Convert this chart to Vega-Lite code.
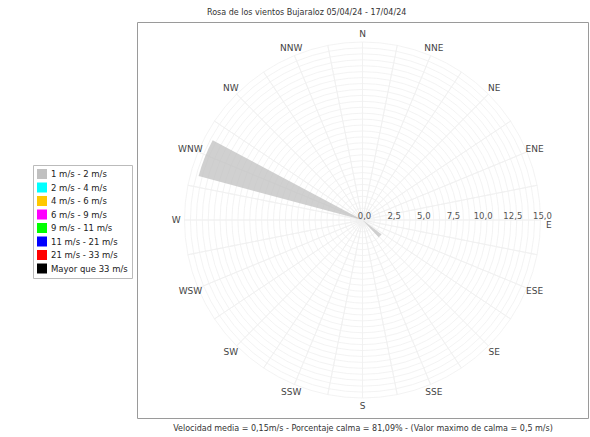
{
  "$schema": "https://vega.github.io/schema/vega-lite/v6.json",
  "width": 451,
  "height": 396,
  "autosize": {"type": "none"},
  "padding": {"left": 137, "top": 22, "right": 2, "bottom": 19},
  "background": "white",
  "config": {
    "font": "DejaVu Sans",
    "view": {"stroke": "#9a9a9a", "strokeWidth": 1}
  },
  "title": {
    "text": "Rosa de los vientos Bujaraloz 05/04/24 - 17/04/24",
    "anchor": "start",
    "frame": "group",
    "dx": 70,
    "offset": 5,
    "fontSize": 8,
    "fontWeight": "normal",
    "color": "#333333"
  },
  "datasets": {
    "rings": [
      {"r": 0.5}, {"r": 1}, {"r": 1.5}, {"r": 2}, {"r": 2.5}, {"r": 3}, {"r": 3.5}, {"r": 4}, {"r": 4.5}, {"r": 5},
      {"r": 5.5}, {"r": 6}, {"r": 6.5}, {"r": 7}, {"r": 7.5}, {"r": 8}, {"r": 8.5}, {"r": 9}, {"r": 9.5}, {"r": 10},
      {"r": 10.5}, {"r": 11}, {"r": 11.5}, {"r": 12}, {"r": 12.5}, {"r": 13}, {"r": 13.5}, {"r": 14}, {"r": 14.5}, {"r": 15}
    ],
    "spokes": [
      {"a": 0}, {"a": 11.25}, {"a": 22.5}, {"a": 33.75}, {"a": 45}, {"a": 56.25}, {"a": 67.5}, {"a": 78.75},
      {"a": 90}, {"a": 101.25}, {"a": 112.5}, {"a": 123.75}, {"a": 135}, {"a": 146.25}, {"a": 157.5}, {"a": 168.75},
      {"a": 180}, {"a": 191.25}, {"a": 202.5}, {"a": 213.75}, {"a": 225}, {"a": 236.25}, {"a": 247.5}, {"a": 258.75},
      {"a": 270}, {"a": 281.25}, {"a": 292.5}, {"a": 303.75}, {"a": 315}, {"a": 326.25}, {"a": 337.5}, {"a": 348.75}
    ],
    "wedges": [
      {"a0": 285, "a1": 298, "v": 14.3, "range": "1 m/s - 2 m/s"},
      {"a0": 127, "a1": 137, "v": 2.0, "range": "1 m/s - 2 m/s"}
    ],
    "dirs": [
      {"d": "N", "a": 0}, {"d": "NNE", "a": 22.5}, {"d": "NE", "a": 45}, {"d": "ENE", "a": 67.5},
      {"d": "E", "a": 91.5}, {"d": "ESE", "a": 112.5}, {"d": "SE", "a": 135}, {"d": "SSE", "a": 157.5},
      {"d": "S", "a": 180}, {"d": "SSW", "a": 202.5}, {"d": "SW", "a": 225}, {"d": "WSW", "a": 247.5},
      {"d": "W", "a": 270}, {"d": "WNW", "a": 292.5}, {"d": "NW", "a": 315}, {"d": "NNW", "a": 337.5}
    ],
    "ticks": [
      {"v": 0, "lab": "0,0"}, {"v": 2.5, "lab": "2,5"}, {"v": 5, "lab": "5,0"}, {"v": 7.5, "lab": "7,5"},
      {"v": 10, "lab": "10,0"}, {"v": 12.5, "lab": "12,5"}, {"v": 15, "lab": "15,0"}
    ],
    "foot": [{"t": ""}]
  },
  "layer": [
    {
      "data": {"name": "rings"},
      "mark": {"type": "arc", "filled": false, "stroke": "#f0f0f0", "strokeWidth": 0.8, "theta": 0, "theta2": 6.2832},
      "encoding": {
        "radius": {"field": "r", "type": "quantitative", "stack": null, "scale": {"type": "linear", "domain": [0, 15], "range": [0, 178], "zero": true}}
      }
    },
    {
      "data": {"name": "spokes"},
      "mark": {"type": "arc", "filled": false, "stroke": "#f0f0f0", "strokeWidth": 0.8},
      "encoding": {
        "theta": {"field": "a", "type": "quantitative", "stack": null, "scale": {"type": "linear", "domain": [0, 360], "range": [0, 6.283185]}},
        "theta2": {"field": "a"},
        "radius": {"datum": 15, "type": "quantitative", "stack": null}
      }
    },
    {
      "data": {"name": "wedges"},
      "mark": {"type": "arc", "opacity": 0.75},
      "encoding": {
        "theta": {"field": "a0", "type": "quantitative", "stack": null},
        "theta2": {"field": "a1"},
        "radius": {"field": "v", "type": "quantitative", "stack": null},
        "color": {
          "field": "range",
          "type": "nominal",
          "scale": {
            "domain": ["1 m/s - 2 m/s", "2 m/s - 4 m/s", "4 m/s - 6 m/s", "6 m/s - 9 m/s", "9 m/s - 11 m/s", "11 m/s - 21 m/s", "21 m/s - 33 m/s", "Mayor que 33 m/s"],
            "range": ["#c0c0c0", "#00ffff", "#ffc800", "#ff00ff", "#00ff00", "#0000ff", "#ff0000", "#000000"]
          },
          "legend": {
            "title": null,
            "orient": "none",
            "legendX": -104,
            "legendY": 143,
            "fillColor": "white",
            "strokeColor": "#bbbbbb",
            "padding": 4,
            "symbolType": "square",
            "symbolSize": 100,
            "symbolStrokeWidth": 0,
            "symbolOpacity": 1,
            "labelFontSize": 8.5,
            "labelColor": "#222222",
            "rowPadding": 3.5,
            "labelOffset": 4
          }
        }
      }
    },
    {
      "data": {"name": "dirs"},
      "mark": {"type": "text", "fontSize": 9, "color": "#444444"},
      "encoding": {
        "theta": {"field": "a", "type": "quantitative", "stack": null},
        "radius": {"datum": 15.7, "type": "quantitative", "stack": null},
        "text": {"field": "d"}
      }
    },
    {
      "data": {"name": "ticks"},
      "mark": {"type": "text", "fontSize": 8.5, "color": "#555555", "dx": 2, "dy": -4},
      "encoding": {
        "theta": {"datum": 90, "type": "quantitative"},
        "radius": {"field": "v", "type": "quantitative", "stack": null},
        "text": {"field": "lab"}
      }
    },
    {
      "data": {"name": "foot"},
      "mark": {"type": "text", "opacity": 0},
      "encoding": {
        "x": {
          "datum": 0,
          "type": "quantitative",
          "scale": {"domain": [0, 1]},
          "axis": {
            "title": "Velocidad media = 0,15m/s - Porcentaje calma = 81,09% -  (Valor maximo de calma = 0,5 m/s)",
            "labels": false,
            "ticks": false,
            "domain": false,
            "grid": false,
            "titlePadding": 6,
            "titleFontSize": 8,
            "titleFontWeight": "normal",
            "titleColor": "#333333"
          }
        },
        "text": {"field": "t"}
      }
    }
  ]
}
